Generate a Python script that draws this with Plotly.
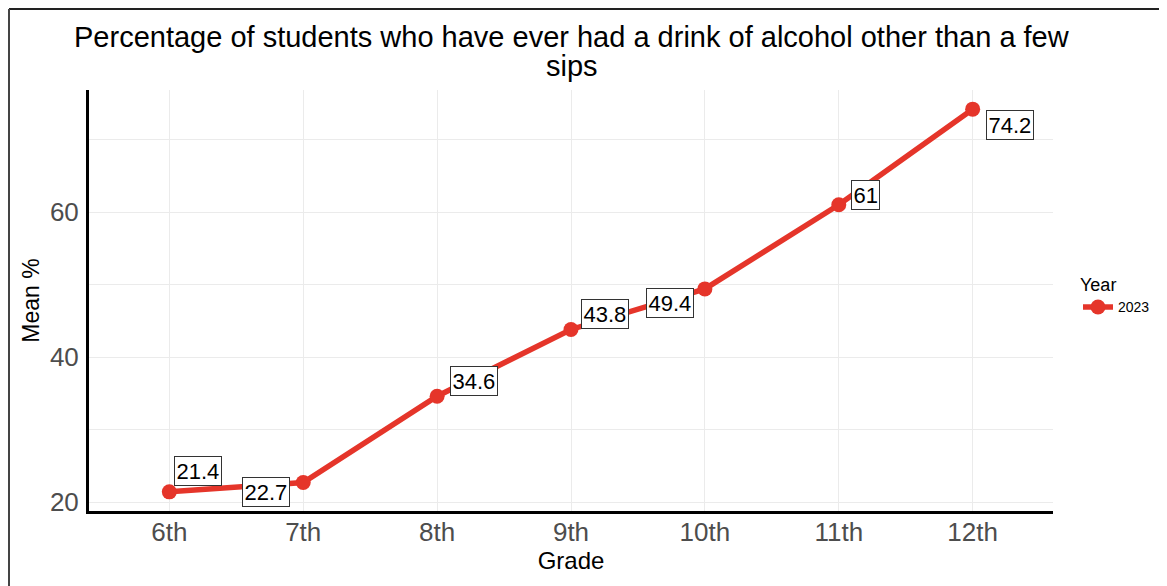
import plotly.graph_objects as go

grades = ["6th", "7th", "8th", "9th", "10th", "11th", "12th"]
mean_pct = [21.4, 22.7, 34.6, 43.8, 49.4, 61, 74.2]
label_text = ["21.4", "22.7", "34.6", "43.8", "49.4", "61", "74.2"]
year = "2023"
title_lines = ["Percentage of students who have ever had a drink of alcohol other than a few", "sips"]

# label offsets in pixels (style only)
label_dx = [29, -37, 37, 34, -35, 27, 37]
label_dy = [21, -10, 15, 15, -14, 10, -16]

RED = "#E5352A"
FONT = "Liberation Sans, Arial, Helvetica, sans-serif"

xs = list(range(len(grades)))

fig = go.Figure()
fig.add_trace(go.Scatter(
    x=xs, y=mean_pct, mode="lines+markers", name=year,
    line=dict(color=RED, width=5.5),
    marker=dict(color=RED, size=15),
))

for i, (xv, yv, t) in enumerate(zip(xs, mean_pct, label_text)):
    fig.add_annotation(
        x=xv, y=yv, text=t, showarrow=False,
        xshift=label_dx[i], yshift=label_dy[i],
        font=dict(family=FONT, size=22, color="black"),
        bgcolor="white", bordercolor="#333333", borderwidth=1, borderpad=1.5,
    )

OFF = 8  # page body margin
L, R, T, B = 89 - OFF, 114, 90 - OFF, 75
W, H = 1167 - OFF, 586 - OFF
pw, ph = W - L - R, H - T - B

def px_x(p):
    return (p - OFF - L) / pw

def px_y(p):
    return (H - B - (p - OFF)) / ph

# title, two lines with tight spacing
fig.add_annotation(xref="paper", yref="paper", x=px_x(572), y=px_y(37),
                   xanchor="center", yanchor="middle", showarrow=False,
                   text=title_lines[0], font=dict(family=FONT, size=29, color="black"))
fig.add_annotation(xref="paper", yref="paper", x=px_x(572), y=px_y(66),
                   xanchor="center", yanchor="middle", showarrow=False,
                   text=title_lines[1], font=dict(family=FONT, size=29, color="black"))

# outer frame lines (top and left)
fig.add_shape(type="line", xref="paper", yref="paper",
              x0=px_x(9), x1=px_x(1175), y0=px_y(9), y1=px_y(9),
              line=dict(color="#222222", width=2))
fig.add_shape(type="line", xref="paper", yref="paper",
              x0=px_x(9), x1=px_x(9), y0=px_y(9), y1=px_y(600),
              line=dict(color="#444444", width=2))

fig.update_layout(
    width=W, height=H,
    margin=dict(l=L, r=R, t=T, b=B),
    paper_bgcolor="white", plot_bgcolor="white",
    font=dict(family=FONT),
    showlegend=True,
    legend=dict(
        title=dict(text="Year", font=dict(family=FONT, size=18, color="black")),
        font=dict(family=FONT, size=14, color="black"),
        x=px_x(1078), xanchor="left", y=px_y(268), yanchor="top",
        bgcolor="rgba(0,0,0,0)",
    ),
    xaxis=dict(
        range=[-0.6, 6.6], tickmode="array", tickvals=xs, ticktext=grades,
        showgrid=True, gridcolor="#ebebeb", gridwidth=1.2,
        zeroline=False, showline=True, linecolor="black", linewidth=3,
        ticks="", ticklabelstandoff=-4,
        tickfont=dict(family=FONT, size=26, color="#4d4d4d"),
        title=dict(text="Grade", font=dict(family=FONT, size=24, color="black"), standoff=2),
    ),
    yaxis=dict(
        range=[18.76, 76.84], tickvals=[20, 40, 60],
        showgrid=True, gridcolor="#ebebeb", gridwidth=1.2,
        minor=dict(tickvals=[30, 50, 70], showgrid=True, gridcolor="#ebebeb", gridwidth=1),
        zeroline=False, showline=True, linecolor="black", linewidth=3,
        ticks="", ticklabelstandoff=2,
        tickfont=dict(family=FONT, size=26, color="#4d4d4d"),
        title=dict(text="Mean %", font=dict(family=FONT, size=23, color="black"), standoff=4),
    ),
)

fig.write_html("out.html")
